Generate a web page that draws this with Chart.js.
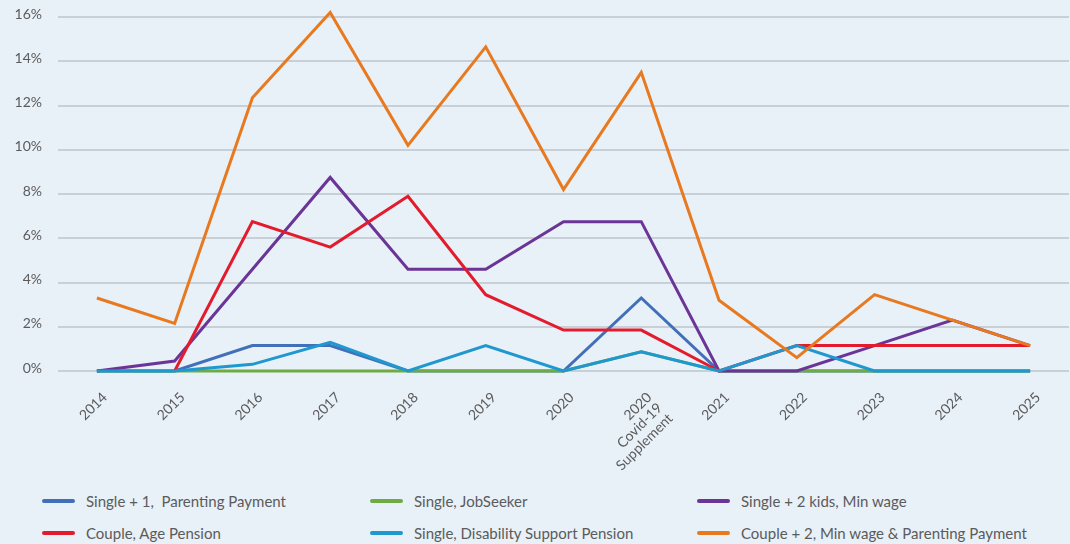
<!DOCTYPE html>
<html>
<head>
<meta charset="utf-8">
<title>Rent affordability by household</title>
<script src="https://cdn.jsdelivr.net/npm/chart.js@4/dist/chart.umd.min.js"></script>
<style>
  html, body { margin: 0; padding: 0; background: #e8f0f8; }
  #wrap { position: relative; width: 1070px; height: 544px; overflow: hidden; }
  #chart-box { position: absolute; left: 0; top: 0; width: 1070px; height: 470px; }
  .legend-item { position: absolute; display: flex; align-items: center; height: 20px; font: 15px Lato, sans-serif; color: #5b5b5b; white-space: pre; }
  .legend-item i { display: inline-block; width: 33px; height: 4px; border-radius: 2px; margin-right: 11px; }
</style>
</head>
<body>
<div id="wrap">
  <div id="chart-box"><canvas id="affordability-chart"></canvas></div>
  <div id="legend"></div>
</div>
<script>
// years shown along the bottom; the Covid supplement point gets its own column
const years = ['2014', '2015', '2016', '2017', '2018', '2019', '2020', ['2020', 'Covid-19', 'Supplement'], '2021', '2022', '2023', '2024', '2025'];
const yTicks = [0, 2, 4, 6, 8, 10, 12, 14, 16];

// share of listings affordable, in percent
const singleParenting = [0, 0, 1.15, 1.15, 0, 0, 0, 3.3, 0, 0, 0, 0, 0];
const singleJobSeeker = [0, 0, 0, 0, 0, 0, 0, 0.87, 0, 0, 0, 0, 0];
const singleTwoKidsMinWage = [0, 0.45, 4.6, 8.75, 4.6, 4.6, 6.75, 6.75, 0, 0, 1.15, 2.3, 1.15];
const coupleAgePension = [null, 0, 6.75, 5.6, 7.9, 3.45, 1.85, 1.85, 0, 1.15, 1.15, 1.15, 1.15];
const singleDisability = [0, 0, 0.3, 1.3, 0, 1.15, 0, 0.87, 0, 1.15, 0, 0, 0];
const coupleTwoMinWageParenting = [3.3, 2.15, 12.35, 16.2, 10.2, 14.65, 8.2, 13.5, 3.2, 0.6, 3.45, 2.3, 1.15];

const seriesNames = [
  'Single + 1,  Parenting Payment',
  'Single, JobSeeker',
  'Single + 2 kids, Min wage',
  'Couple, Age Pension',
  'Single, Disability Support Pension',
  'Couple + 2, Min wage & Parenting Payment'
];
const seriesData = [singleParenting, singleJobSeeker, singleTwoKidsMinWage, coupleAgePension, singleDisability, coupleTwoMinWageParenting];
const seriesColors = ['#4170b8', '#6fab45', '#6a3597', '#e31c2d', '#1f97cf', '#e8791f'];

const tickGray = '#5b5b5b';

// rotated year labels, right-aligned lines so the multi-line one stacks like the others
const slantedYears = {
  id: 'slantedYears',
  afterDraw(chart) {
    const { ctx } = chart;
    const x = chart.scales.x;
    ctx.save();
    ctx.fillStyle = tickGray;
    ctx.font = '14px Lato, sans-serif';
    ctx.textAlign = 'right';
    ctx.textBaseline = 'top';
    years.forEach((lab, i) => {
      const lines = Array.isArray(lab) ? lab : [lab];
      const px = x.getPixelForValue(i);
      ctx.save();
      ctx.translate(px + 3, x.top + 19);
      ctx.rotate(-Math.PI / 4);
      lines.forEach((ln, j) => ctx.fillText(ln, 0, j * 15));
      ctx.restore();
    });
    ctx.restore();
  }
};

const chart = new Chart(document.getElementById('affordability-chart'), {
  type: 'line',
  data: {
    labels: years,
    datasets: seriesData.map((d, i) => ({
      label: seriesNames[i],
      data: d,
      borderColor: seriesColors[i],
      backgroundColor: seriesColors[i],
      borderWidth: 3,
      pointRadius: 0,
      tension: 0,
      clip: false,
      // later series sit on top
      order: seriesData.length - i
    }))
  },
  options: {
    responsive: true,
    maintainAspectRatio: false,
    animation: false,
    layout: { padding: { top: 17, right: 1, left: 0, bottom: 0 } },
    plugins: { legend: { display: false }, tooltip: { enabled: false } },
    scales: {
      x: {
        offset: true,
        grid: { display: false },
        border: { display: false },
        ticks: { display: false },
        afterFit(scale) { scale.height = 99; }
      },
      y: {
        min: 0,
        max: 16,
        afterBuildTicks(scale) { scale.ticks = yTicks.map(v => ({ value: v })); },
        // invisible tick marks keep the labels off the plot without padding the top
        grid: { color: '#c9cfd7', lineWidth: 2, drawTicks: true, tickLength: 16, tickColor: 'rgba(0,0,0,0)' },
        border: { display: false },
        ticks: { color: tickGray, font: { family: 'Lato', size: 14 }, padding: 0, labelOffset: -3, callback: v => v + '%' },
        afterFit(scale) { scale.width = 58; }
      }
    }
  },
  plugins: [slantedYears]
});

// three-column legend under the plot
const legendCols = [42, 370, 697];
const legendRows = [491, 523];
const legend = document.getElementById('legend');
seriesNames.forEach((name, i) => {
  const item = document.createElement('div');
  item.className = 'legend-item';
  item.style.left = legendCols[i % 3] + 'px';
  item.style.top = legendRows[Math.floor(i / 3)] + 'px';
  item.innerHTML = `<i style="background:${seriesColors[i]}"></i>${name}`;
  legend.appendChild(item);
});
</script>
</body>
</html>
